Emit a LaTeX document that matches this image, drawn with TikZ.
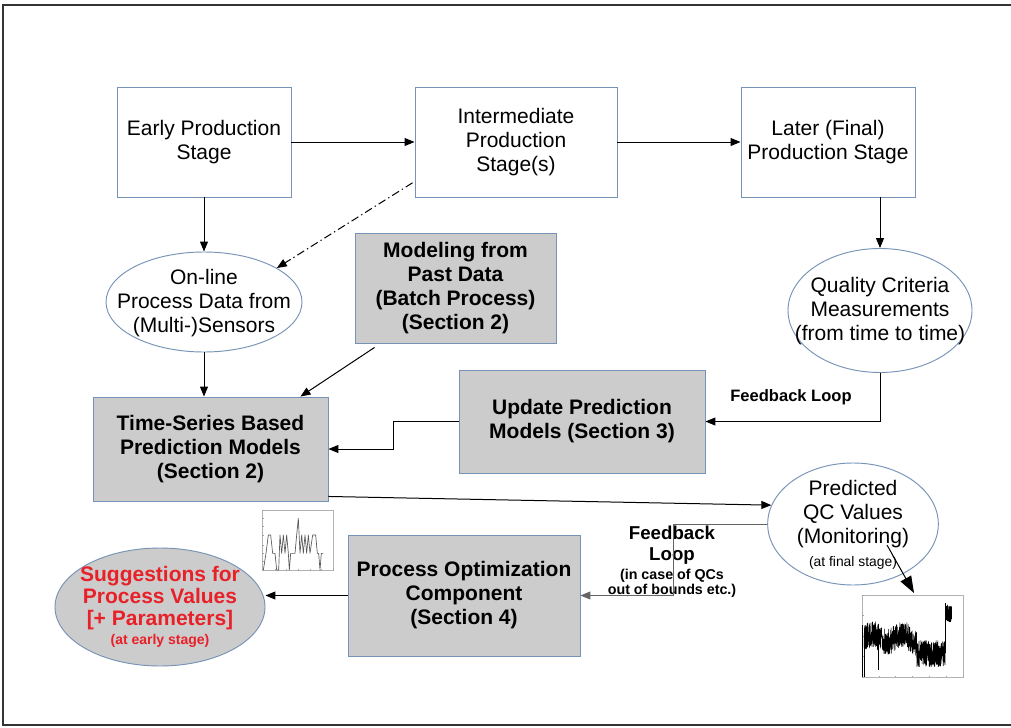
\documentclass[tikz,border=0pt]{standalone}
\usepackage{fontspec}
\setmainfont{Liberation Sans}
\usetikzlibrary{arrows.meta,shapes.geometric,calc}
\definecolor{edgeblue}{RGB}{118,146,182}
\definecolor{boxgray}{RGB}{204,204,204}
\definecolor{sugred}{RGB}{232,32,40}
\definecolor{loopgray}{RGB}{100,100,100}
\newcommand{\mainsize}{\fontsize{15.75}{18}\selectfont}
\begin{document}
\begin{tikzpicture}[x=0.75pt,y=-0.75pt,
  plainbox/.style={draw=edgeblue,line width=0.7pt,fill=white,align=center,font=\mainsize,inner sep=0pt},
  graybox/.style={plainbox,fill=boxgray,font=\mainsize\bfseries},
  oval/.style={ellipse,draw=edgeblue,line width=0.7pt,fill=white,inner sep=0pt},
  grayoval/.style={oval,fill=boxgray},
  txt/.style={align=center,inner sep=0pt},
  link/.style={line width=0.75pt,-{Triangle[length=7.5pt,width=6pt]}},
  looplink/.style={link,draw=loopgray},
  axisframe/.style={draw=black!30,line width=0.3pt},
]
\useasboundingbox (0,0) rectangle (1011,728);
\fill[white] (0,0) rectangle (1011,728);
% page frame
\draw[line width=1pt,black!80] (1016,5) -- (3,5) -- (3,725) -- (1016,725);

% production stages
\node[plainbox,minimum width=130.5pt,minimum height=82.5pt] (early) at (204,142) {Early Production\\Stage};
\node[plainbox,minimum width=151.5pt,minimum height=82.5pt] (inter) at (516,142) {Intermediate\\Production\\Stage(s)};
\node[plainbox,minimum width=130.5pt,minimum height=82.5pt] (later) at (828,142) {Later (Final)\\Production Stage};

% model components
\node[graybox,minimum width=150.75pt,minimum height=82.5pt] (model) at (455.5,288) {Modeling from\\Past Data\\(Batch Process)\\(Section 2)};
\node[graybox,minimum width=176.25pt,minimum height=78pt] (tsm) at (210.5,449) {Time-Series Based\\Prediction Models\\(Section 2)};
\node[graybox,minimum width=184.5pt,minimum height=77.25pt] (upd) at (582,421.5) {Update Prediction\\Models (Section 3)};
\node[graybox,minimum width=174pt,minimum height=90.75pt] (popt) at (464,595.5) {Process Optimization\\Component\\(Section 4)};

% data ellipses
\node[oval,minimum width=147pt,minimum height=75pt] (online) at (204,302) {};
\node[txt,font=\mainsize] (online-t) at (204,303.5) {On-line\\Process Data from\\(Multi-)Sensors};
\node[oval,minimum width=138pt,minimum height=93pt] (qual) at (880,310.5) {};
\node[txt,font=\mainsize] (qual-t) at (880,311.5) {Quality Criteria\\Measurements\\(from time to time)};
\node[oval,minimum width=128pt,minimum height=91.5pt] (pred) at (853,524) {};
\node[txt,font=\mainsize] (pred-t) at (853,514) {Predicted\\QC Values\\(Monitoring)};
\node[txt,font=\fontsize{10.4}{12}\selectfont] (pred-s) at (853,563) {(at final stage)};
\node[grayoval,minimum width=157.5pt,minimum height=88.5pt] (sugg) at (160,607) {};
\node[txt,font=\fontsize{15.75}{16.5}\selectfont\bfseries,text=sugred] (sugg-t) at (160,598) {Suggestions for\\Process Values\\{[+ Parameters]}};
\node[txt,font=\fontsize{10.5}{12}\selectfont\bfseries,text=sugred] (sugg-s) at (160,641) {(at early stage)};

% loop labels
\node[txt,font=\fontsize{12.4}{14}\selectfont\bfseries] (fb1) at (791,397) {Feedback Loop};
\node[txt,font=\fontsize{14}{15.5}\selectfont\bfseries] (fb2) at (672,545) {Feedback\\Loop};
\node[txt,font=\fontsize{10.7}{11.25}\selectfont\bfseries] (fb2-s) at (672,583) {(in case of QCs\\out of bounds etc.)};

% connectors
\draw[link] (early) -- (inter);
\draw[link] (inter) -- (later);
\draw[link] (early) -- (online);
\draw[link,dash pattern=on 6pt off 2.5pt on 1pt off 2.5pt] ([xshift=-1.5pt,yshift=11pt]inter.south west) -- (online.25);
\draw[link] (qual.north |- later.south) -- (qual);
\draw[link] (online) -- (online.south |- tsm.north);
\draw[link] ([xshift=15pt,yshift=-3pt]model.south west) -- ([xshift=-21pt]tsm.north east);
\draw[link] (qual.south) -- (qual.south |- upd.east) -- (upd.east);
\draw[link] (upd.west) -- ++(-65,0) |- (tsm.east);
\draw[link] ([yshift=3.75pt]tsm.south east) -- (pred.167);
\draw[looplink] (pred.west) -- ++(-94,0) |- (popt.east);
\draw[link] (popt.west) -- (popt.west -| sugg.east);
\coordinate (plot2) at (914,593);
\draw[line width=0.75pt,-{Triangle[length=12.5pt,width=9pt]}] ($(pred)+(34,21)$) -- (plot2);

% small signal plot
\begin{scope}[shift={(250,500)},scale=1/3]
  \draw[axisframe] (37,30) rectangle (250,212);
  \foreach \yy in {30,55,80,105,135,160,185,210}
    \draw[black!35,line width=0.3pt] (37,\yy) -- (42,\yy);
  \foreach \xx in {40,75,110,145,180,215,250}
    \draw[black!35,line width=0.3pt] (\xx,212) -- (\xx,207);
  \draw[black!65,line width=0.5pt,line join=round] plot coordinates {
    (40,210) (48,160) (55,105) (62,105) (68,160) (75,160) (80,210) (86,210)
    (90,105) (95,160) (100,105) (105,160) (110,105) (115,160) (118,210)
    (122,160) (135,160) (140,105) (145,55) (150,160) (155,105) (160,160)
    (165,105) (170,160) (175,105) (180,160) (188,105) (197,105) (202,160)
    (206,160) (210,210) (214,160) (220,160)};
\end{scope}

% monitoring signal plot
\begin{scope}[shift={(850,570)},scale=1/3]
  \draw[axisframe] (37,75) rectangle (340,322);
  \foreach \yy in {75,135,200,260,322}
    \draw[black!35,line width=0.3pt] (37,\yy) -- (42,\yy);
  \foreach \xx in {37,88,137,188,238,288,340}
    \draw[black!35,line width=0.3pt] (\xx,322) -- (\xx,317);
  \pgfmathsetseed{3}
  \draw[black,line width=0.4pt,line join=round] plot[domain=42:286,samples=700]
    (\x,{(\x<200 ? 205+12*sin(4*\x) : 250) + 40*rand});
  \draw[black,line width=0.4pt,line join=round] plot[domain=286:305,samples=70]
    (\x,{130+28*rand});
  \draw[black,line width=0.5pt] (38,165) -- (38,320);
  \draw[black,line width=0.5pt] (44,190) -- (44,320);
  \draw[black,line width=0.5pt] (85,200) -- (85,300);
  \draw[black,line width=0.5pt] (287,250) -- (287,100);
\end{scope}
\end{tikzpicture}
\end{document}
